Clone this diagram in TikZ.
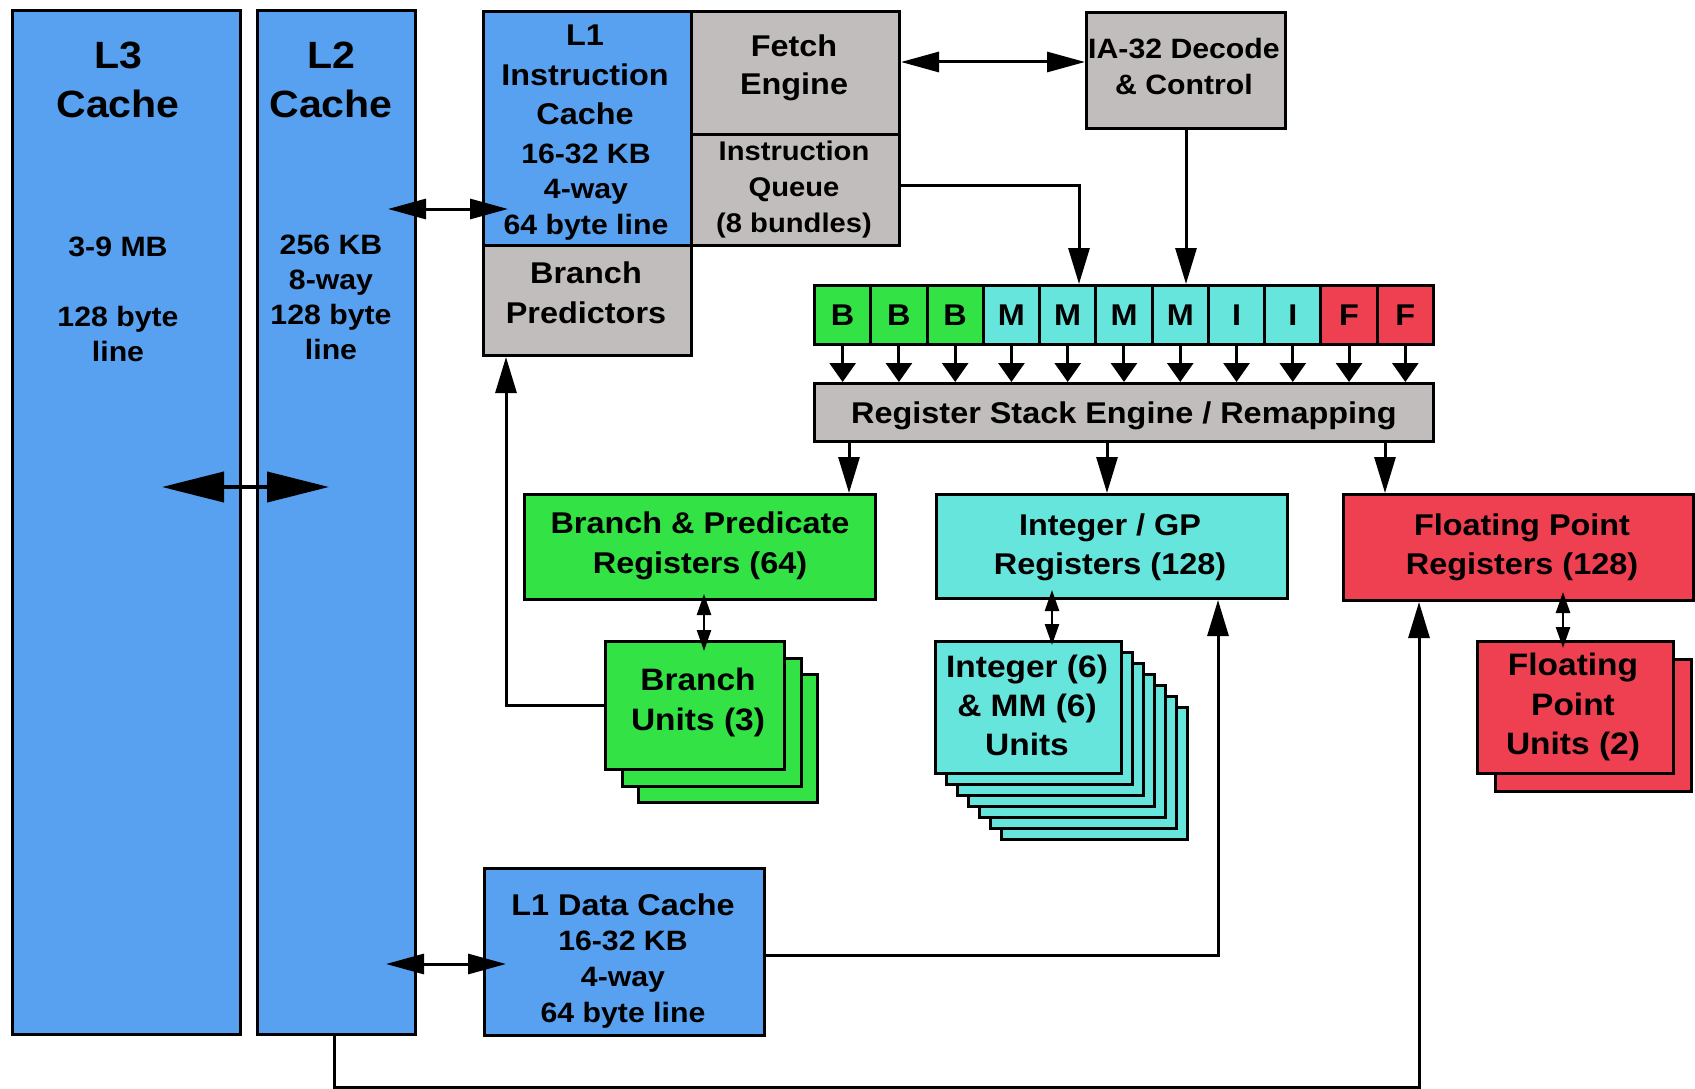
\documentclass[tikz,border=0pt]{standalone}
\usepackage{fontspec}
\setmainfont{Liberation Sans}[FakeStretch=1.08]
\usetikzlibrary{arrows.meta}
\definecolor{cblue}{HTML}{58A1F0}
\definecolor{cgray}{HTML}{C1BDBC}
\definecolor{cgreen}{HTML}{33E244}
\definecolor{ccyan}{HTML}{66E5DC}
\definecolor{cred}{HTML}{EE4050}
\newcommand\fs[2]{\fontsize{#1}{#2}\selectfont\bfseries}
\tikzset{
  box/.style={draw=black, line width=3pt, inner sep=0pt, anchor=north west},
  txt/.style={align=center, inner sep=0pt, text=black},
  conn/.style={line width=3pt},
  bigdbl/.style={line width=4pt, {Triangle[length=62pt,width=30pt]}-{Triangle[length=62pt,width=30pt]}},
  dbl/.style={conn, {Triangle[length=38pt,width=20pt]}-{Triangle[length=38pt,width=20pt]}},
  arr/.style={conn, -{Triangle[length=36pt,width=21pt]}},
  sarr/.style={conn, -{Triangle[length=19pt,width=26pt]}},
  tdbl/.style={line width=2.5pt, {Triangle[length=21pt,width=14pt]}-{Triangle[length=21pt,width=14pt]}},
}
\begin{document}
\begin{tikzpicture}[x=1pt,y=-1pt]
\useasboundingbox (0,0) rectangle (1695,1089);

% caches
\node[box,fill=cblue,minimum width=228pt,minimum height=1024pt] (l3) at (11,9) {};
\node[box,fill=cblue,minimum width=158pt,minimum height=1024pt] (l2) at (256,9) {};
\node[txt,font=\fs{38}{49}] (l3t) at (118,80) {L3\\Cache};
\node[txt,font=\fs{28}{35}] (l3b) at (118,299) {3-9 MB\\[35pt]128 byte\\line};
\node[txt,font=\fs{38}{49}] (l2t) at (331,80) {L2\\Cache};
\node[txt,font=\fs{28}{35}] (l2b) at (331,297) {256 KB\\8-way\\128 byte\\line};

% front end
\node[box,fill=cblue,minimum width=208pt,minimum height=234pt] (l1i) at (482,10) {};
\node[box,fill=cgray,minimum width=208pt,minimum height=123pt] (fetch) at (690,10) {};
\node[box,fill=cgray,minimum width=208pt,minimum height=111pt] (iq) at (690,133) {};
\node[box,fill=cgray,minimum width=208pt,minimum height=110pt] (bp) at (482,244) {};
\node[box,fill=cgray,minimum width=199pt,minimum height=116pt] (ia) at (1085,11) {};
\node[txt,font=\fs{30}{39.5}] (l1it) at (585,75) {L1\\Instruction\\Cache};
\node[txt,font=\fs{28}{35.5}] (l1ib) at (586,192) {16-32 KB\\4-way\\64 byte line};
\node[txt,font=\fs{30}{38}] (fetcht) at (794,68) {Fetch\\Engine};
\node[txt,font=\fs{27}{36}] (iqt) at (794,190) {Instruction\\Queue\\(8 bundles)};
\node[txt,font=\fs{30}{40}] (bpt) at (586,293) {Branch\\Predictors};
\node[txt,font=\fs{28}{36}] (iat) at (1184,66) {IA-32 Decode\\\& Control};

% bundle slots
\foreach \l/\c [count=\i] in {B/cgreen,B/cgreen,B/cgreen,M/ccyan,M/ccyan,M/ccyan,M/ccyan,I/ccyan,I/ccyan,F/cred,F/cred}
  \node[box,fill=\c,minimum width=56.27pt,minimum height=59pt,font=\fs{30}{36}] (c\i) at ({813+56.27*(\i-1)},284) {\l};
\node[box,fill=cgray,minimum width=619pt,minimum height=58pt] (rse) at (813,382) {};
\node[txt,font=\fs{30}{36}] (rset) at (rse.center) [yshift=-3pt] {Register Stack Engine / Remapping};

% register files
\node[box,fill=cgreen,minimum width=351pt,minimum height=105pt] (bpr) at (523,493) {};
\node[box,fill=ccyan,minimum width=351pt,minimum height=104pt] (igp) at (935,493) {};
\node[box,fill=cred,minimum width=350pt,minimum height=106pt] (fpr) at (1342,493) {};
\node[txt,font=\fs{30}{40}] (bprt) at (700,546) {Branch \& Predicate\\Registers (64)};
\node[txt,font=\fs{30}{39}] (igpt) at (1110,547) {Integer / GP\\Registers (128)};
\node[txt,font=\fs{30}{39}] (fprt) at (1522,547) {Floating Point\\Registers (128)};

% execution units
\foreach \k in {2,1}
  \node[box,fill=cgreen,minimum width=179pt,minimum height=128pt] (bu\k) at ({604+16.5*\k},{640+16.5*\k}) {};
\node[box,fill=cgreen,minimum width=179pt,minimum height=128pt] (bu) at (604,640) {};
\node[txt,font=\fs{31}{40}] (but) at (698,702) {Branch\\Units (3)};

\foreach \k in {6,5,...,1}
  \node[box,fill=ccyan,minimum width=186pt,minimum height=132pt] (iu\k) at ({934+11*\k},{640+11*\k}) {};
\node[box,fill=ccyan,minimum width=186pt,minimum height=132pt] (iu) at (934,640) {};
\node[txt,font=\fs{31}{39}] (iut) at (1027,705) {Integer (6)\\\& MM (6)\\Units};

\node[box,fill=cred,minimum width=196pt,minimum height=132pt] (fpu1) at (1494,658) {};
\node[box,fill=cred,minimum width=196pt,minimum height=132pt] (fpu) at (1476,640) {};
\node[txt,font=\fs{31}{39.5}] (fput) at (1573,707) {Floating\\Point\\Units (2)};

% L1 data cache
\node[box,fill=cblue,minimum width=280pt,minimum height=167pt] (l1d) at (483,867) {};
\node[txt,font=\fs{30}{36},anchor=base] (l1dt) at (623,915) {L1 Data Cache};
\node[txt,font=\fs{28}{36}] (l1db) at (623,980) {16-32 KB\\4-way\\64 byte line};

% coordinates for connector ends
\coordinate (l3tip) at (162,487);
\coordinate (l2tip) at (329,487);
\coordinate (l2a) at (388,209);
\coordinate (l1ia) at (508,209);
\coordinate (l2b) at (386,964);
\coordinate (l1da) at (506,964);
\coordinate (yf) at (0,62);
\coordinate (xq) at (1079,185);
\coordinate (xb) at (849,0);
\coordinate (xi) at (1107,0);
\coordinate (xf) at (1385,0);
\coordinate (xbp) at (506,0);
\coordinate (yd) at (0,955);
\coordinate (xd) at (1218,0);
\coordinate (bot) at (334,1087);
\coordinate (xfp) at (1419,0);
\coordinate (bd1) at (704,594);
\coordinate (bd2) at (704,651);
\coordinate (id1) at (1052,590);
\coordinate (id2) at (1052,645);
\coordinate (fd1) at (1563,592);
\coordinate (fd2) at (1563,648);

% connectors
\draw[bigdbl] (l3tip) -- (l2tip);
\draw[dbl] (l2a) -- (l1ia);
\draw[dbl] (l2b) -- (l1da);
\draw[dbl] (fetch.east |- yf) -- (ia.west |- yf);
\draw[arr] (iq.east |- xq) -| (xq |- c5.north);
\draw[arr] (ia.south) -- (ia.south |- c7.north);
\foreach \i in {1,...,11}
  \draw[sarr] (c\i.south) -- (c\i.south |- rse.north);
\draw[arr] (xb |- rse.south) -- (xb |- bpr.north);
\draw[arr] (xi |- rse.south) -- (xi |- igp.north);
\draw[arr] (xf |- rse.south) -- (xf |- fpr.north);
\draw[tdbl] (bd1) -- (bd2);
\draw[tdbl] (id1) -- (id2);
\draw[tdbl] (fd1) -- (fd2);
\draw[arr] (bu.west) -| (xbp |- bp.south);
\draw[arr] (l1d.east |- yd) -| (xd |- igp.south);
\draw[arr] (l2.south -| bot) -- (bot) -| (xfp |- fpr.south);
\end{tikzpicture}
\end{document}
